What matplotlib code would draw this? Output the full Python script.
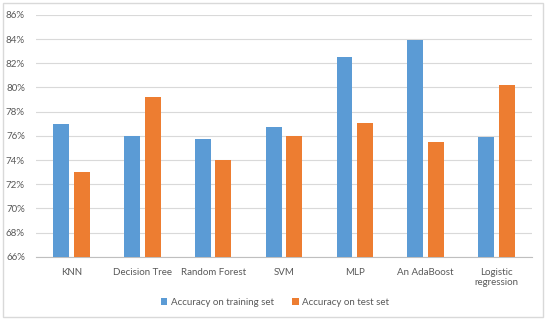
import numpy as np
import matplotlib.pyplot as plt
from matplotlib.patches import Rectangle
from matplotlib.ticker import FuncFormatter

models = ["KNN", "Decision Tree", "Random Forest", "SVM", "MLP", "An AdaBoost", "Logistic\nregression"]
train_acc = [77.0, 76.0, 75.7, 76.7, 82.5, 83.9, 75.9]
test_acc = [73.0, 79.2, 74.0, 76.0, 77.1, 75.5, 80.2]
y_ticks = list(range(66, 88, 2))

plt.rcParams["font.family"] = ["Lato", "DejaVu Sans"]

fig = plt.figure(figsize=(5.5, 3.23), dpi=100)
ax = fig.add_axes([0.0655, 0.2053, 0.9015, 0.7483])

x = np.arange(len(models))
width = 0.225
ax.bar(x - 0.145, train_acc, width, color="#5B9BD5", label="Accuracy on training set", zorder=3)
ax.bar(x + 0.145, test_acc, width, color="#ED7D31", label="Accuracy on test set", zorder=3)

ax.set_xlim(-0.5, len(models) - 0.5)
ax.set_ylim(66, 86)
ax.set_yticks(y_ticks)
ax.yaxis.set_major_formatter(FuncFormatter(lambda v, p: f"{v:.0f}%"))
ax.set_xticks(x)
ax.set_xticklabels(models)
ax.tick_params(length=0, labelsize=7, colors="#595959", pad=8)
ax.tick_params(axis="y", pad=8)
ax.grid(True, axis="y", color="#D9D9D9", linewidth=0.8, zorder=0)
for s in ["top", "right", "left"]:
    ax.spines[s].set_visible(False)
ax.spines["bottom"].set_color("#BFBFBF")
ax.spines["bottom"].set_linewidth(0.8)

fig.legend(loc="center", bbox_to_anchor=(0.5, 0.064), ncol=2, frameon=False,
           fontsize=7, labelcolor="#595959", handlelength=0.7, handleheight=0.7,
           handletextpad=0.4, columnspacing=1.8)

fig.patches.append(Rectangle((0.005, 0.018), 0.982, 0.972, transform=fig.transFigure,
                             fill=False, edgecolor="#D9D9D9", linewidth=1))

fig.savefig("out.png", dpi=100)
